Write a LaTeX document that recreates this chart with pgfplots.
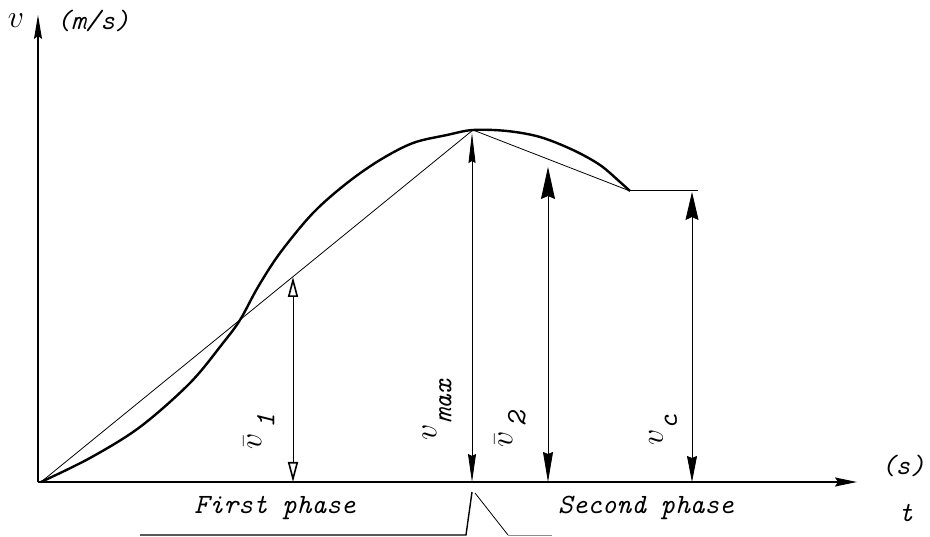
\RequirePackage{fix-cm}
\documentclass[border=0pt]{standalone}
\usepackage{fontspec}
\usepackage{pgfplots}
\pgfplotsset{compat=1.18}
\usetikzlibrary{arrows.meta}

% slanted typewriter text (Latin Modern Mono italic) used for all labels
\newcommand{\lbl}[1]{{\ttfamily\itshape #1}}
\newcommand{\lblsize}{\fontsize{28}{32}\selectfont}
\newcommand{\vv}{{\fontsize{32}{36}\selectfont$v$}}
\newcommand{\vbar}{{\fontsize{32}{36}\selectfont$\bar{v}$}}

\begin{document}
\begin{tikzpicture}
\begin{axis}[
  width=819bp, height=467bp, scale only axis,
  xmin=-3, xmax=816, ymin=0, ymax=467,
  axis lines=left,
  xtick=\empty, ytick=\empty,
  x axis line style={line width=1.8bp, -{Stealth[length=22bp,width=9bp,inset=3bp]}},
  y axis line style={line width=1.3bp, -{Stealth[length=24bp,width=8bp,inset=3bp]}},
  clip=false,
]
% page extent
\path (axis cs:-41,482) rectangle (axis cs:889,-55);

% velocity curve
\addplot[line width=2.4bp, smooth, tension=0.55] coordinates {
(0,0) (49,24) (99,55) (149,99) (182,139) (199,162) (217,195) (239,229)
(272,269) (306,299) (339,322) (372,339) (406,347) (432,352)
(466,351) (499,345) (532,332) (559,317) (579,300) (589,291)
};
% cruising part
\addplot[line width=1bp] coordinates {(589,291) (657,291)};
% mean lines
\addplot[line width=0.8bp] coordinates {(0,0) (432,352)};
\addplot[line width=0.8bp] coordinates {(432,352) (589,291)};

% velocity arrows
\addplot[line width=0.8bp, {Triangle[open,length=20bp,width=10bp,line width=1.6bp]}-{Triangle[open,length=20bp,width=10bp,line width=1.6bp]}]
  coordinates {(252,0) (252,205)};
\addplot[line width=0.8bp, {Stealth[length=28bp,width=8bp,inset=2bp]}-{Stealth[length=30bp,width=7bp,inset=2bp]}]
  coordinates {(431,0) (431,349)};
\addplot[line width=0.8bp, {Stealth[length=30bp,width=10bp,inset=2bp]}-{Stealth[length=32bp,width=14bp,inset=3bp]}]
  coordinates {(507,0) (507,315)};
\addplot[line width=0.8bp, {Stealth[length=26bp,width=10bp,inset=2bp]}-{Stealth[length=28bp,width=13bp,inset=3bp]}]
  coordinates {(651,0) (651,290)};

% phase brackets under the axis
\addplot[line width=1.4bp] coordinates {(99,-53) (425,-53) (431,-10)};
\addplot[line width=0.8bp] coordinates {(434,-11) (467,-53)};
\addplot[line width=0.8bp, black!45] coordinates {(467,-53) (511,-53)};

% labels
\node[font=\lblsize] at (axis cs:-25,461) {\vv};
\node[font=\lblsize] at (axis cs:52,461) {\lbl{(m/s)}};
\node[font=\lblsize, rotate=90] at (axis cs:218,50) {\vbar\,\raisebox{-13bp}{\lbl{1}}};
\node[font=\lblsize, rotate=90] at (axis cs:396,72) {\vv\raisebox{-15bp}{\lbl{max}}};
\node[font=\lblsize, rotate=90] at (axis cs:469,52) {\vbar\,\raisebox{-13bp}{\lbl{2}}};
\node[font=\lblsize, rotate=90] at (axis cs:622,52) {\vv\raisebox{-14bp}{\lbl{c}}};
\node[font=\lblsize] at (axis cs:234,-26) {\lbl{First phase}};
\node[font=\lblsize] at (axis cs:605,-26) {\lbl{Second phase}};
\node[font=\lblsize] at (axis cs:862,16) {\lbl{(s)}};
\node[font=\lblsize] at (axis cs:865,-31) {\lbl{t}};
\end{axis}
\end{tikzpicture}
\end{document}
